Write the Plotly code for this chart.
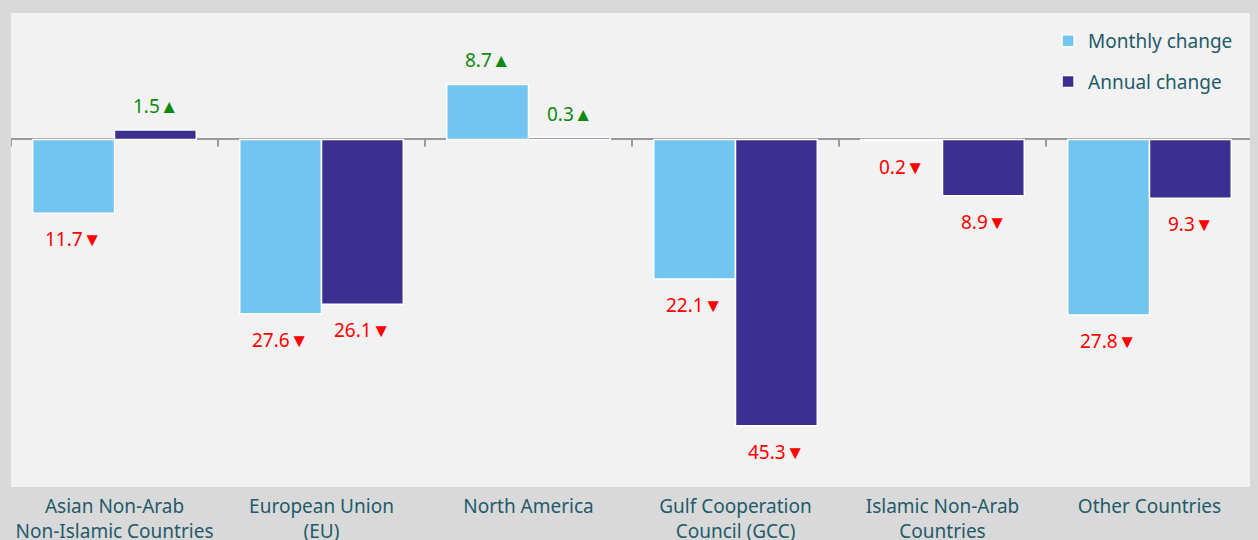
import plotly.graph_objects as go

categories = [
    "Asian Non-Arab<br>Non-Islamic Countries",
    "European Union<br>(EU)",
    "North America",
    "Gulf Cooperation<br>Council (GCC)",
    "Islamic Non-Arab<br>Countries",
    "Other Countries",
]
monthly_change = [-11.7, -27.6, 8.7, -22.1, -0.2, -27.8]
annual_change = [1.5, -26.1, 0.3, -45.3, -8.9, -9.3]

LIGHT = "#72C5EF"
DARK = "#3B2F8F"
TEXT = "#235B6A"
FONT = "Noto Sans"
BG = "#D9D9D9"

fig = go.Figure()
fig.add_trace(go.Bar(x=categories, y=monthly_change, name="Monthly change",
                     marker=dict(color=LIGHT, line=dict(color="white", width=1.5)),
                     legendgroup="m"))
fig.add_trace(go.Bar(x=categories, y=annual_change, name="Annual change",
                     marker=dict(color=DARK, line=dict(color="white", width=1.5)),
                     legendgroup="a"))

annotations = []
for series, xs in ((monthly_change, -41), (annual_change, 41)):
    for c, v in zip(categories, series):
        up = v > 0
        annotations.append(dict(
            x=c, y=v, xref="x", yref="y", xshift=xs,
            yshift=24 if up else -26,
            text=f"{abs(v)}{'▲' if up else '▼'}",
            showarrow=False,
            font=dict(family=FONT, size=19, color="#0E8A0E" if up else "#FF0000"),
        ))

shapes = []
for i in range(len(categories) + 1):
    shapes.append(dict(type="line", xref="x", yref="y", x0=i - 0.5, x1=i - 0.5,
                       ysizemode="pixel", yanchor=0, y0=0, y1=-7,
                       line=dict(color="#9A9A9A", width=2)))

fig.update_layout(
    width=1250, height=540,
    margin=dict(l=3, r=5, t=5, b=61),
    paper_bgcolor=BG,
    plot_bgcolor="#F2F2F2",
    barmode="group", bargap=0.21, bargroupgap=0.0,
    font=dict(family=FONT, size=19, color=TEXT),
    showlegend=True,
    legend=dict(x=0.835, xanchor="left", y=0.981, yanchor="top",
                bgcolor="rgba(0,0,0,0)", font=dict(size=19, color=TEXT),
                traceorder="grouped", tracegroupgap=13, itemwidth=30),
    annotations=annotations,
    shapes=shapes,
)
fig.update_xaxes(showgrid=False, showline=False, ticks="", tickfont=dict(size=19, color=TEXT),
                 ticklabelstandoff=6, range=[-0.5, len(categories) - 0.5])
fig.update_yaxes(range=[-55, 20], showgrid=False, showticklabels=False, ticks="",
                 zeroline=True, zerolinecolor="#9A9A9A", zerolinewidth=2)

fig.write_html("out.html",
               post_script=f"document.body.style.background='{BG}';document.documentElement.style.background='{BG}';")
